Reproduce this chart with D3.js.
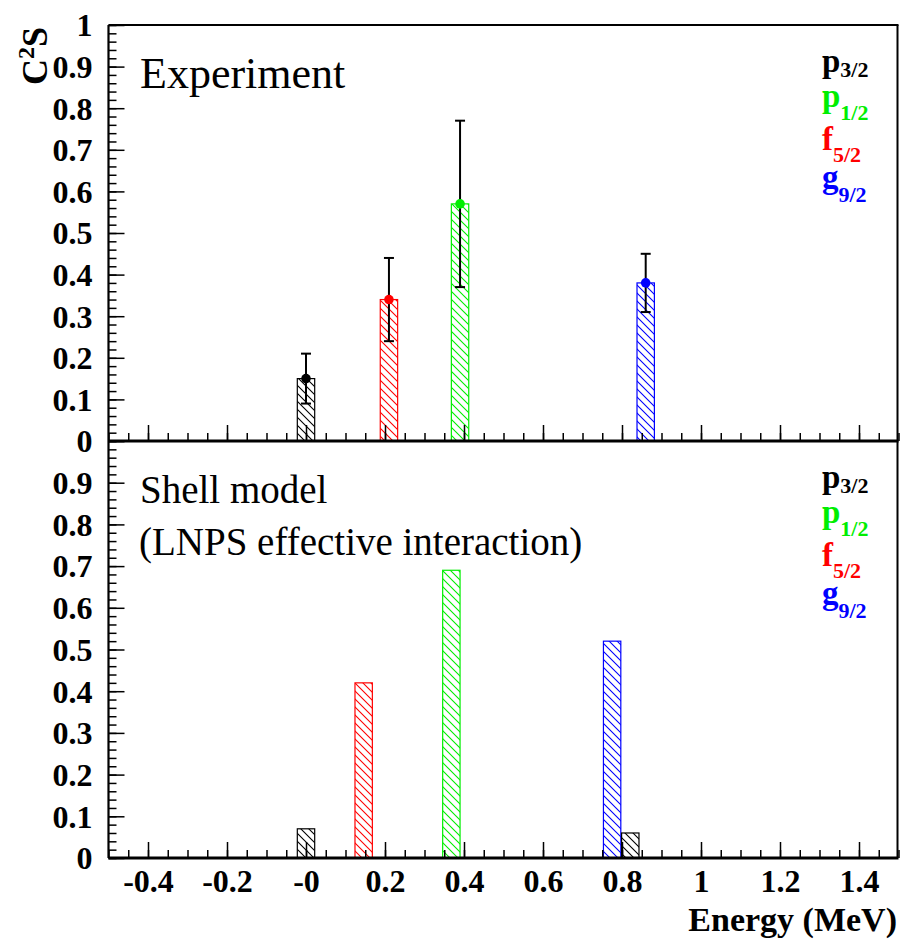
<!DOCTYPE html>
<html lang="en">
<head>
  <meta charset="UTF-8">
  <title>C2S vs Energy</title>
  <script src="https://d3js.org/d3.v7.min.js"></script>
  <style>
    body {
      margin: 0;
      background: #fff;
    }
    .tick-lab {
      font-size: 32px;
      font-weight: bold;
      fill: #000;
    }
    .tick line {
      stroke: #000;
      stroke-width: 1.5;
    }
  </style>
</head>
<body>
  <svg id="chart" width="900" height="941"></svg>

  <script>
    // --- data ---
    const orbitals = ["p3/2", "p1/2", "f5/2", "g9/2"];

    // experiment
    const expOrbital = ["p3/2", "f5/2", "p1/2", "g9/2"];
    const expEnergy = [0.0, 0.21, 0.39, 0.86];
    const expC2S = [0.15, 0.34, 0.57, 0.38];
    const expErr = [0.06, 0.10, 0.20, 0.07];

    // shell model (LNPS)
    const smOrbital = ["p3/2", "f5/2", "p1/2", "g9/2", "p3/2"];
    const smEnergy = [0.0, 0.146, 0.368, 0.775, 0.821];
    const smC2S = [0.07, 0.42, 0.69, 0.52, 0.06];

    const xTickLabels = ["-0.4", "-0.2", "-0", "0.2", "0.4", "0.6", "0.8", "1", "1.2", "1.4"];
    const yTickLabels = ["0", "0.1", "0.2", "0.3", "0.4", "0.5", "0.6", "0.7", "0.8", "0.9", "1"];

    const binWidth = 0.044;

    const colors = { "p3/2": "#000000", "p1/2": "#00ee00", "f5/2": "#ff0000", "g9/2": "#0000ff" };
    const serif = "'Liberation Serif', 'DejaVu Serif', 'Noto Serif', FreeSerif, 'Nimbus Roman', Times, serif";

    const svg = d3.select("#chart").style("font-family", serif);

    const x = d3.scaleLinear().domain([-0.5, 1.5]).range([108.5, 898.5]);
    const yTop = d3.scaleLinear().domain([0, 1]).range([441, 25]);
    const yBot = d3.scaleLinear().domain([0, 1]).range([858, 441]);

    // hatch patterns, one per colour
    const defs = svg.append("defs");
    orbitals.forEach((o, i) => {
      const p = defs.append("pattern")
        .attr("id", "hatch" + i)
        .attr("patternUnits", "userSpaceOnUse")
        .attr("width", 8).attr("height", 8);
      p.append("path")
        .attr("d", "M0,0 L8,8 M-2,6 L2,10 M6,-2 L10,2")
        .attr("stroke", colors[o])
        .attr("stroke-width", 1.1)
        .attr("fill", "none");
    });
    const hatch = o => "url(#hatch" + orbitals.indexOf(o) + ")";

    function drawBars(g, y, energy, vals, orb) {
      g.selectAll("rect.bar")
        .data(energy.map((e, i) => ({ e, v: vals[i], o: orb[i] })))
        .enter().append("rect")
        .attr("class", "bar")
        .attr("x", d => x(d.e - binWidth / 2))
        .attr("width", d => x(d.e + binWidth / 2) - x(d.e - binWidth / 2))
        .attr("y", d => y(d.v))
        .attr("height", d => y(0) - y(d.v))
        .attr("fill", d => hatch(d.o))
        .attr("stroke", d => colors[d.o])
        .attr("stroke-width", 1.2);
    }

    const majX = d3.range(-4, 15, 2).map(v => v / 10);
    const minX = d3.range(-10, 31).map(v => v / 20);
    const majY = d3.range(0, 11).map(v => v / 10);
    const minY = d3.range(0, 51).map(v => v / 50);

    function drawAxes(y, showXLabels, yLabelCount) {
      const yPos = y(0);
      // x ticks (pointing up)
      svg.append("g").attr("transform", `translate(0,${yPos})`)
        .call(d3.axisBottom(x).tickValues(minX).tickSize(-8).tickFormat(""))
        .call(g => g.select(".domain").remove());
      const gx = svg.append("g").attr("transform", `translate(0,${yPos})`)
        .call(d3.axisBottom(x).tickValues(majX).tickSize(-16).tickPadding(11)
          .tickFormat((d, i) => showXLabels ? xTickLabels[i] : ""))
        .call(g => g.select(".domain").remove())
        .attr("font-family", null).attr("font-size", 32);
      gx.selectAll("text").attr("class", "tick-lab").attr("fill", "#000");

      // y ticks (pointing right)
      svg.append("g").attr("transform", `translate(${x(-0.5)},0)`)
        .call(d3.axisLeft(y).tickValues(minY).tickSize(-8).tickFormat(""))
        .call(g => g.select(".domain").remove());
      const gy = svg.append("g").attr("transform", `translate(${x(-0.5)},0)`)
        .call(d3.axisLeft(y).tickValues(majY).tickSize(-16).tickPadding(16)
          .tickFormat((d, i) => i < yLabelCount ? yTickLabels[i] : ""))
        .call(g => g.select(".domain").remove())
        .attr("font-family", null).attr("font-size", 32);
      gy.selectAll("text").attr("class", "tick-lab").attr("fill", "#000").attr("dy", "0.34em");
    }

    // ---- top panel: experiment ----
    const gTop = svg.append("g");
    drawBars(gTop, yTop, expEnergy, expC2S, expOrbital);
    drawAxes(yTop, false, 11);

    const errData = expEnergy.map((e, i) => ({ e, v: expC2S[i], s: expErr[i], o: expOrbital[i] }));
    const gErr = svg.append("g");
    gErr.selectAll("line.err").data(errData).enter().append("line")
      .attr("x1", d => x(d.e)).attr("x2", d => x(d.e))
      .attr("y1", d => yTop(d.v - d.s)).attr("y2", d => yTop(d.v + d.s))
      .attr("stroke", "#000").attr("stroke-width", 2);
    ["lo", "hi"].forEach(k => {
      gErr.selectAll("line.cap" + k).data(errData).enter().append("line")
        .attr("x1", d => x(d.e) - 5).attr("x2", d => x(d.e) + 5)
        .attr("y1", d => yTop(k === "lo" ? d.v - d.s : d.v + d.s))
        .attr("y2", d => yTop(k === "lo" ? d.v - d.s : d.v + d.s))
        .attr("stroke", "#000").attr("stroke-width", 2);
    });
    gErr.selectAll("circle").data(errData).enter().append("circle")
      .attr("cx", d => x(d.e)).attr("cy", d => yTop(d.v)).attr("r", 4.8)
      .attr("fill", d => colors[d.o]);

    // ---- bottom panel: shell model ----
    const gBot = svg.append("g");
    drawBars(gBot, yBot, smEnergy, smC2S, smOrbital);
    drawAxes(yBot, true, 10);

    // frames
    const frame = svg.append("g").attr("stroke", "#000").attr("fill", "none");
    frame.append("line").attr("x1", x(-0.5)).attr("x2", x(-0.5)).attr("y1", yTop(1)).attr("y2", yBot(0)).attr("stroke-width", 2.2);
    frame.append("line").attr("x1", x(1.5) - 1).attr("x2", x(1.5) - 1).attr("y1", yTop(1)).attr("y2", yBot(0)).attr("stroke-width", 2);
    frame.append("line").attr("x1", x(-0.5)).attr("x2", x(1.5)).attr("y1", yTop(1)).attr("y2", yTop(1)).attr("stroke-width", 2);
    frame.append("line").attr("x1", x(-0.5)).attr("x2", x(1.5)).attr("y1", yTop(0)).attr("y2", yTop(0)).attr("stroke-width", 3);
    frame.append("line").attr("x1", x(-0.5)).attr("x2", x(1.5)).attr("y1", yBot(0)).attr("y2", yBot(0)).attr("stroke-width", 3);

    // panel captions
    svg.append("text").attr("x", 140).attr("y", 88)
      .attr("font-size", 44).text("Experiment");
    svg.append("text").attr("x", 140).attr("y", 503)
      .attr("font-size", 39).text("Shell model");
    svg.append("text").attr("x", 139).attr("y", 555)
      .attr("font-size", 39).text("(LNPS effective interaction)");

    // legends
    const legBase = [47, 82, 125, 163];
    const legSub = [5, 13, 12, 14];
    [yTop(1), yBot(1)].forEach(top => {
      orbitals.forEach((o, i) => {
        const l = o.slice(0, 1), s = o.slice(1);
        const t = svg.append("text")
          .attr("x", 822).attr("y", top + legBase[i])
          .attr("font-weight", "bold").attr("font-size", 33)
          .attr("fill", colors[o]);
        t.append("tspan").text(l);
        t.append("tspan").attr("dy", legSub[i]).attr("font-size", 22).text(s);
      });
    });

    // axis titles
    svg.append("text")
      .attr("x", 897).attr("y", 931)
      .attr("text-anchor", "end")
      .attr("font-weight", "bold").attr("font-size", 34)
      .text("Energy (MeV)");

    const yt = svg.append("text")
      .attr("transform", "translate(47,27) rotate(-90)")
      .attr("text-anchor", "end")
      .attr("font-weight", "bold").attr("font-size", 36);
    yt.append("tspan").text("C");
    yt.append("tspan").attr("dy", -13).attr("font-size", 24).text("2");
    yt.append("tspan").attr("dy", 13).text("S");
  </script>
</body>
</html>
